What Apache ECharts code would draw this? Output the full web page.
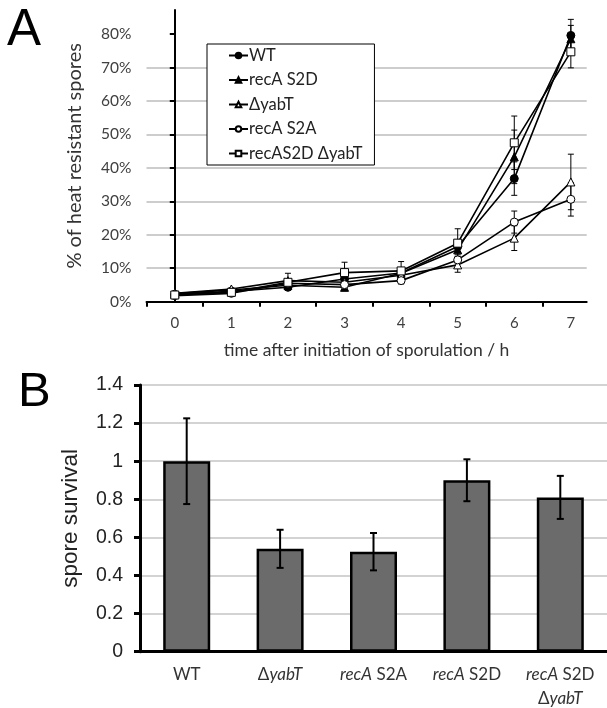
<!DOCTYPE html>
<html><head><meta charset="utf-8">
<script src="https://cdn.jsdelivr.net/npm/echarts@6/dist/echarts.min.js"></script>
<style>html,body{margin:0;padding:0;background:#fff}#c{width:607px;height:708px}</style>
</head><body><div id="c"></div>
<script>
// ---------- Panel A data ----------
const timeHours = [0, 1, 2, 3, 4, 5, 6, 7];
const seriesNames = ['WT', 'recA S2D', 'ΔyabT', 'recA S2A', 'recAS2D ΔyabT'];
const wtValues      = [0.022, 0.031, 0.043, 0.068, 0.086, 0.165, 0.368, 0.796];
const s2dValues     = [0.024, 0.035, 0.049, 0.043, 0.085, 0.155, 0.433, 0.786];
const yabTValues    = [0.025, 0.038, 0.063, 0.058, 0.079, 0.110, 0.190, 0.358];
const s2aValues     = [0.018, 0.025, 0.055, 0.051, 0.063, 0.125, 0.238, 0.306];
const s2dYabTValues = [0.020, 0.028, 0.058, 0.087, 0.092, 0.175, 0.475, 0.747];
const wtErr      = [0.003, 0.003, 0.005, 0.010, 0.010, 0.015, 0.050, 0.048];
const s2dErr     = [0.003, 0.003, 0.005, 0.010, 0.010, 0.015, 0.080, 0.040];
const yabTErr    = [0.003, 0.003, 0.022, 0.010, 0.010, 0.022, 0.037, 0.083];
const s2aErr     = [0.003, 0.003, 0.005, 0.010, 0.010, 0.010, 0.033, 0.050];
const s2dYabTErr = [0.003, 0.003, 0.005, 0.031, 0.028, 0.043, 0.080, 0.048];
const percentTicks = [0, 0.1, 0.2, 0.3, 0.4, 0.5, 0.6, 0.7, 0.8];

// ---------- Panel B data ----------
const strains = ['WT', 'ΔyabT', 'recA S2A', 'recA S2D', 'recA S2D ΔyabT'];
const survival = [1.00, 0.54, 0.525, 0.90, 0.81];
const survivalErr = [0.225, 0.10, 0.098, 0.11, 0.113];

const strainLabels = {
  'WT': 'WT',
  'ΔyabT': 'Δ{i|yabT}',
  'recA S2A': '{i|recA} S2A',
  'recA S2D': '{i|recA} S2D',
  'recA S2D ΔyabT': '{i|recA} S2D\nΔ{i|yabT}'
};

const lineVals = [wtValues, s2dValues, yabTValues, s2aValues, s2dYabTValues];
const lineErrs = [wtErr, s2dErr, yabTErr, s2aErr, s2dYabTErr];
const symbols = [
  {symbol: 'circle', size: 8, fill: '#000'},
  {symbol: 'triangle', size: 8, fill: '#000'},
  {symbol: 'triangle', size: 8, fill: '#fff'},
  {symbol: 'circle', size: 8, fill: '#fff'},
  {symbol: 'rect', size: 8, fill: '#fff'}
];

function errRender(capHalf, lw) {
  return function (params, api) {
    const x = api.value(0), lo = api.value(1), hi = api.value(2);
    const a = api.coord([x, lo]), b = api.coord([x, hi]);
    const style = {stroke: '#000', lineWidth: lw};
    return {type: 'group', children: [
      {type: 'line', shape: {x1: a[0], y1: a[1], x2: b[0], y2: b[1]}, style: style},
      {type: 'line', shape: {x1: a[0] - capHalf, y1: a[1], x2: a[0] + capHalf, y2: a[1]}, style: style},
      {type: 'line', shape: {x1: b[0] - capHalf, y1: b[1], x2: b[0] + capHalf, y2: b[1]}, style: style}
    ]};
  };
}

const series = [];
seriesNames.forEach(function (name, k) {
  series.push({
    type: 'custom', xAxisIndex: 0, yAxisIndex: 0, z: 1, silent: true,
    renderItem: errRender(3, 1),
    data: timeHours.map(function (t, i) { return [t, lineVals[k][i] - lineErrs[k][i], lineVals[k][i] + lineErrs[k][i]]; })
  });
});
seriesNames.forEach(function (name, k) {
  series.push({
    name: name, type: 'line', xAxisIndex: 0, yAxisIndex: 0, z: 3,
    symbol: symbols[k].symbol, symbolSize: symbols[k].size, showAllSymbol: true,
    lineStyle: {color: '#000', width: 1.6},
    itemStyle: {color: symbols[k].fill, borderColor: '#000', borderWidth: 1},
    data: timeHours.map(function (t, i) { return [t, lineVals[k][i]]; })
  });
});
series.push({
  type: 'bar', xAxisIndex: 1, yAxisIndex: 1, barWidth: 47,
  itemStyle: {color: '#6b6b6b', borderColor: '#000', borderWidth: 2.5},
  data: survival
});
series.push({
  type: 'custom', xAxisIndex: 1, yAxisIndex: 1, z: 5, silent: true,
  renderItem: errRender(3.5, 2),
  data: strains.map(function (s, i) { return [i, survival[i] - survivalErr[i], survival[i] + survivalErr[i]]; })
});

const chart = echarts.init(document.getElementById('c'), null, {renderer: 'canvas'});
chart.setOption({
  animation: false,
  backgroundColor: '#fff',
  title: [
    {text: 'A', left: 7, top: 5, padding: 0, textStyle: {fontSize: 51, fontWeight: 'normal', fontFamily: 'Liberation Sans', color: '#000'}},
    {text: 'B', left: 18, top: 368, padding: 0, textStyle: {fontSize: 49, fontWeight: 'normal', fontFamily: 'Liberation Sans', color: '#000'}}
  ],
  legend: {
    data: seriesNames, orient: 'vertical', left: 207, top: 44,
    backgroundColor: '#fff', borderColor: '#000', borderWidth: 1,
    padding: [3, 12, 3, 21], itemGap: 7.5, itemWidth: 19, itemHeight: 7,
    textStyle: {fontFamily: 'Lato', fontSize: 16.5, color: '#222', padding: [0, 0, 0, -4]}
  },
  grid: [
    {left: 146.5, right: 20.3, top: 10, bottom: 406.3, outerBoundsMode: 'none', containLabel: false},
    {left: 140, right: 0, top: 385, bottom: 56.3, outerBoundsMode: 'none', containLabel: false}
  ],
  xAxis: [
    {
      type: 'value', gridIndex: 0, min: -0.5, max: 7.28, interval: 1,
      name: 'time after initiation of sporulation / h', nameLocation: 'middle', nameGap: 40,
      nameTextStyle: {fontFamily: 'Lato', fontSize: 17.5, color: '#333'},
      axisLine: {lineStyle: {color: '#000', width: 2}},
      axisTick: {customValues: [-0.5, 0.5, 1.5, 2.5, 3.5, 4.5, 5.5, 6.5], length: 5, lineStyle: {color: '#000', width: 2}},
      axisLabel: {customValues: timeHours, margin: 14, fontFamily: 'Lato', fontSize: 15, color: '#404040'},
      splitLine: {show: false}
    },
    {
      type: 'category', gridIndex: 1, data: strains,
      axisLine: {lineStyle: {color: '#000', width: 3}},
      axisTick: {length: 5, lineStyle: {color: '#000', width: 2}},
      axisLabel: {
        interval: 0, margin: 11, fontFamily: 'Lato', fontSize: 17, color: '#333', lineHeight: 24,
        formatter: function (v) { return strainLabels[v]; },
        rich: {i: {fontFamily: 'Lato', fontStyle: 'italic', fontSize: 17, color: '#333', lineHeight: 24}}
      }
    }
  ],
  yAxis: [
    {
      type: 'value', gridIndex: 0, min: 0, max: 0.872, interval: 0.1,
      name: '% of heat resistant spores', nameLocation: 'middle', nameGap: 62,
      nameTextStyle: {fontFamily: 'Lato', fontSize: 20, color: '#333'},
      axisLine: {show: true, lineStyle: {color: '#000', width: 2}},
      axisTick: {show: true, customValues: percentTicks, length: 5, lineStyle: {color: '#000', width: 2}},
      axisLabel: {customValues: percentTicks, margin: 15, fontFamily: 'Lato', fontSize: 15.5, color: '#404040',
        formatter: function (v) { return Math.round(v * 100) + '%'; }},
      splitLine: {show: true, showMaxLine: false, lineStyle: {color: '#bdbdbd', width: 1.5}}
    },
    {
      type: 'value', gridIndex: 1, min: 0, max: 1.4, interval: 0.2,
      name: 'spore survival', nameLocation: 'middle', nameGap: 58,
      nameTextStyle: {fontFamily: 'Liberation Sans', fontSize: 22.5, color: '#222'},
      axisLine: {show: true, lineStyle: {color: '#000', width: 3}},
      axisTick: {show: true, length: 6, lineStyle: {color: '#000', width: 3}},
      axisLabel: {margin: 17, fontFamily: 'Liberation Sans', fontSize: 19.5, color: '#222',
        formatter: function (v) { return String(Math.round(v * 10) / 10); }},
      splitLine: {show: true, lineStyle: {color: '#c4c4c4', width: 1.5}}
    }
  ],
  series: series
});
</script></body></html>
